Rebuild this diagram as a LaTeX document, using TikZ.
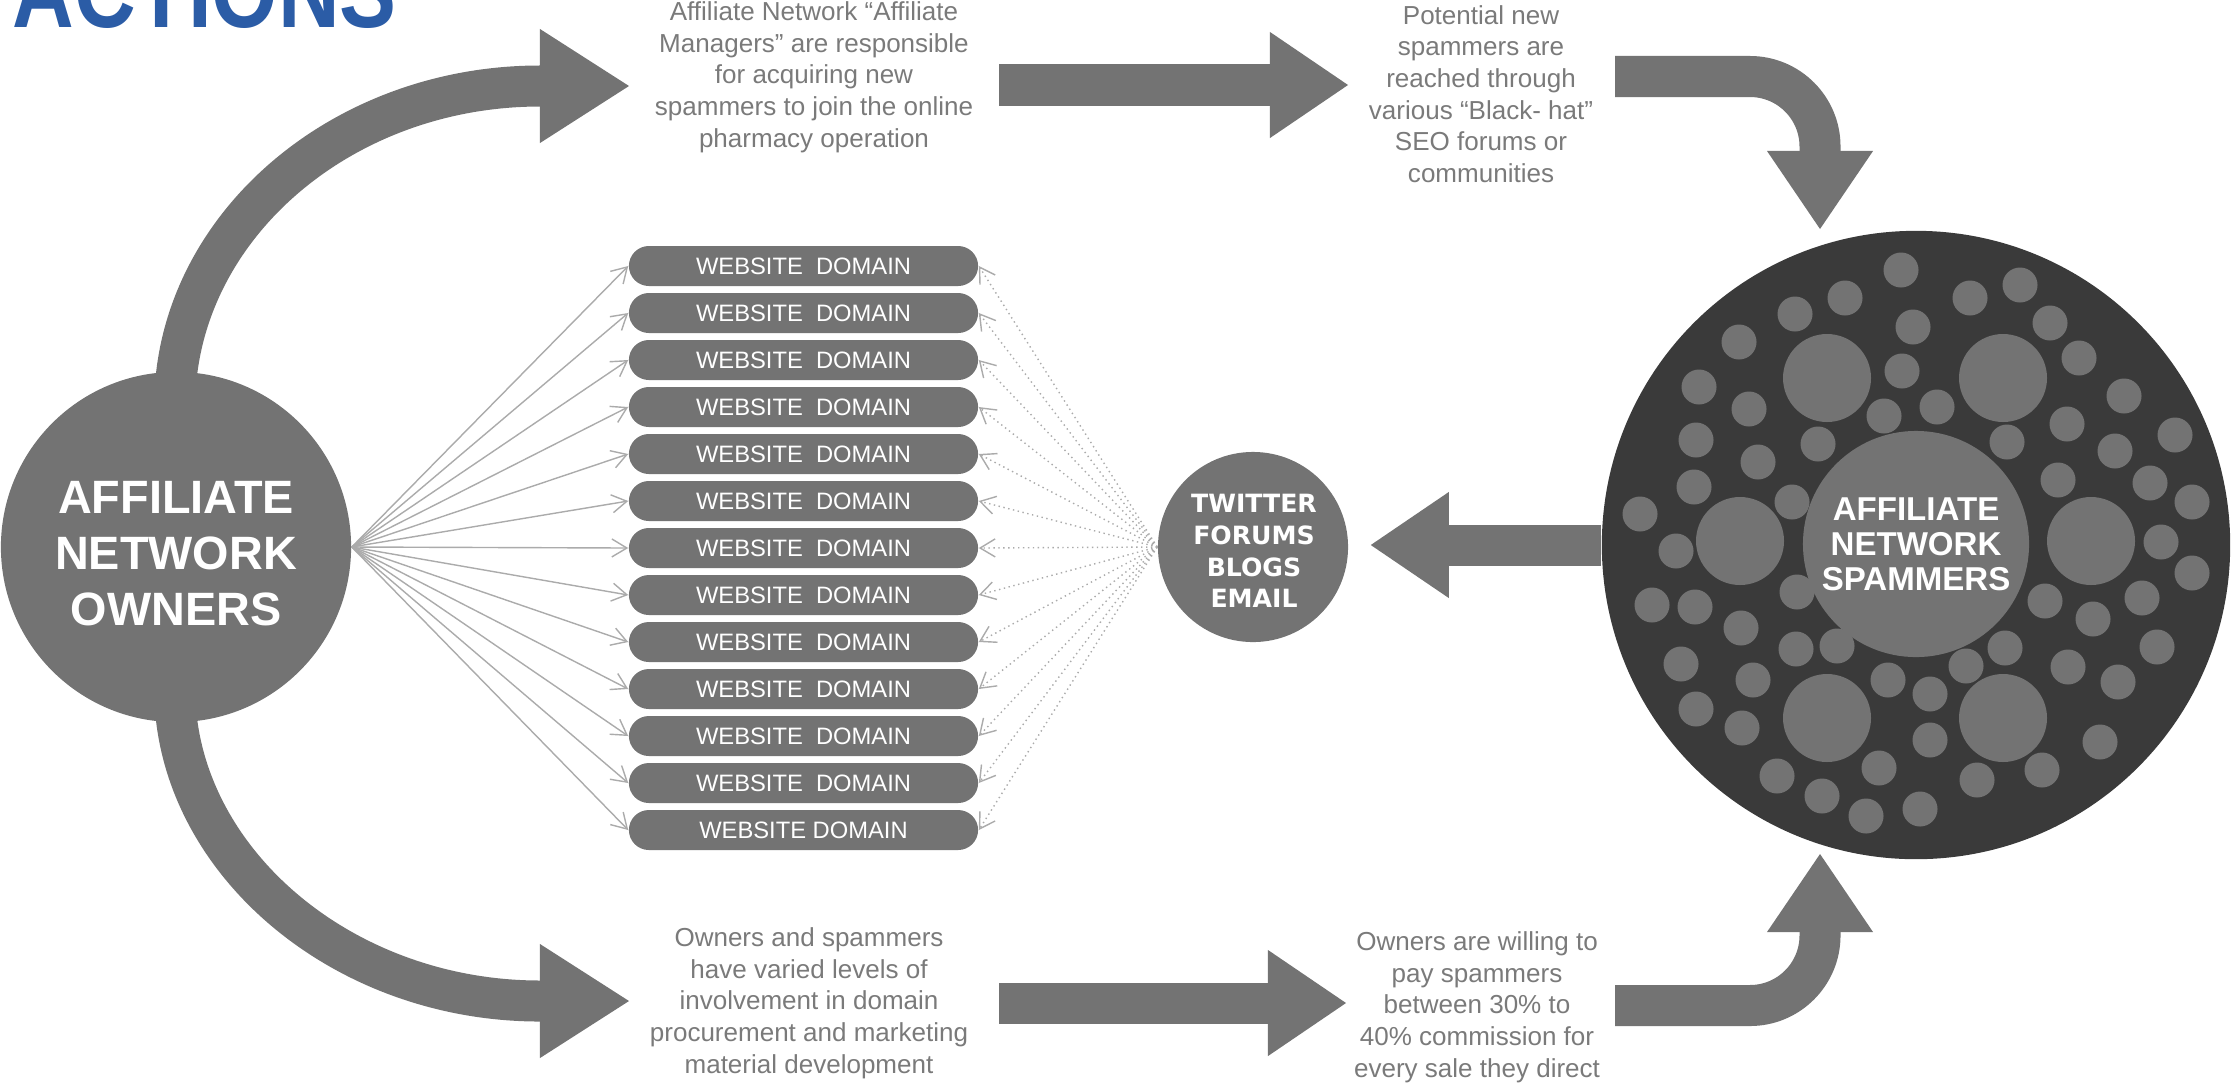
\documentclass[tikz,border=0pt]{standalone}
\usepackage{fontspec}
\setmainfont{Liberation Sans}
\newfontfamily\heavyfont{DejaVu Sans}
\newfontfamily\titlefont{Liberation Sans}[FakeStretch=0.82]
\usepackage{tikz}
\usetikzlibrary{arrows.meta,backgrounds}

\definecolor{shapegray}{HTML}{737373}
\definecolor{darkdisc}{HTML}{3A3A3A}
\definecolor{textgray}{HTML}{7A7A7A}
\definecolor{fangray}{HTML}{ABABAB}
\definecolor{titleblue}{HTML}{2B5CA6}

\begin{document}
\begin{tikzpicture}[x=0.01cm, y=-0.01cm]
% Node styles ---
\tikzstyle{own} = [circle, fill = shapegray, minimum size = 3.5cm, inner sep = 0pt]
\tikzstyle{ownlabel} = [align = center, text = white, inner sep = 0pt, font = \fontsize{13.3}{15.9}\selectfont\bfseries]
\tikzstyle{hub} = [circle, fill = shapegray, minimum size = 1.9cm, inner sep = 0pt]
\tikzstyle{hublabel} = [align = center, text = white, inner sep = 0pt, font = \heavyfont\bfseries\fontsize{7.15}{9}\selectfont]
\tikzstyle{spam} = [circle, fill = darkdisc, minimum size = 6.28cm, inner sep = 0pt]
\tikzstyle{core} = [circle, fill = shapegray, minimum size = 2.26cm, inner sep = 0pt, align = center, text = white, font = \fontsize{9.4}{10}\selectfont\bfseries]
\tikzstyle{site} = [rectangle, rounded corners = 0.2cm, fill = shapegray, minimum width = 3.49cm, minimum height = 0.4cm, inner sep = 0pt, text = white, font = \fontsize{6.75}{8}\selectfont]
\tikzstyle{txt} = [align = center, text = textgray, inner sep = 0pt, font = \fontsize{7.4}{9}\selectfont]
\tikzstyle{link} = [-{Straight Barb[length=1.5mm, width=1.8mm]}, draw = fangray, line width = 0.4pt]
\tikzstyle{spread} = [link, densely dotted]
\tikzstyle{blockarr} = [draw = shapegray, line width = 0.41cm, -{Triangle[length=0.78cm, width=1.06cm, line width=0pt]}]
\tikzstyle{bigtip} = [-{Triangle[length=0.89cm, width=1.14cm, line width=0pt]}]
% Begin Figure ---
\useasboundingbox (0,0) rectangle (2231,1084);
% Nodes
\node at (12,27) [anchor = base west, inner sep = 0pt, text = titleblue, font = \titlefont\bfseries\fontsize{29.6}{30}\selectfont] (title) {ACTIONS};
\node at (176,547) [own] (owners) {};
\node at (176,554) [ownlabel] (ownertxt) {AFFILIATE\\NETWORK\\OWNERS};
\node at (1253,547) [hub] (hub) {};
\node at (1254,551) [hublabel] (hubtxt) {TWITTER\\FORUMS\\BLOGS\\EMAIL};
\node at (1916,545) [spam] (spammers) {};
\foreach \x/\y in {1827/378, 2003/378, 1740/541, 2091/541, 1827/718, 2003/718}
  \fill [shapegray] (\x,\y) circle (44);
\foreach \x/\y in {1901/270, 1845/298, 1970/298, 2020/285, 1795/314, 1913/327, 2050/323, 1739/342,
  2079/358, 1902/371, 1699/387, 2124/396, 1749/409, 1884/416, 1937/407, 2067/424, 1696/440,
  1818/444, 2007/442, 2175/435, 1758/462, 2115/451, 1694/487, 2058/480, 2150/483, 1792/502,
  1640/514, 2192/502, 1676/551, 2161/542, 1797/592, 2192/573, 1652/605, 1695/607, 2142/598,
  2045/601, 2093/619, 1741/628, 1796/649, 1837/646, 2005/648, 2157/647, 1681/664, 1966/666,
  1888/680, 2068/667, 1753/680, 1930/694, 2118/682, 1696/709, 1742/728, 1930/740, 2100/742,
  1879/768, 1977/780, 2042/770, 1777/776, 1822/796, 1866/816, 1920/809}
  \fill [shapegray] (\x,\y) circle (17.5);
\node at (1916,544) [core] (core) {AFFILIATE\\NETWORK\\SPAMMERS};
\foreach \i in {1,...,13}
  \node at (803.5,{266+47*(\i-1)}) [site] (dom\i) {\ifnum\i<13 WEBSITE\ \ DOMAIN\else WEBSITE DOMAIN\fi};
\node at (814,77) [txt] (mgrtxt) {Affiliate Network “Affiliate\\Managers” are responsible\\for acquiring new\\spammers to join the online\\pharmacy operation};
\node at (1481,94) [txt] (seotxt) {Potential new\\spammers are\\reached through\\various “Black- hat”\\SEO forums or\\communities};
\node at (809,1003) [txt] (proctxt) {Owners and spammers\\have varied levels of\\involvement in domain\\procurement and marketing\\material development};
\node at (1477,1007) [txt] (paytxt) {Owners are willing to\\pay spammers\\between 30\% to\\40\% commission for\\every sale they direct};
% arrow ends
\coordinate (upend) at (629,86);
\coordinate (lowend) at (629,1001);
\coordinate (mgrout) at (999,85);
\coordinate (seoin) at (1348,85);
\coordinate (procout) at (999,1003);
\coordinate (payin) at (1346,1003);
\coordinate (seoout) at (1615,76.5);
\coordinate (seobend) at (1820,76.5);
\coordinate (spamtop) at (1820,229);
\coordinate (payout) at (1615,1005.5);
\coordinate (paybend) at (1820,1005.5);
\coordinate (spambot) at (1820,854);
% Paths
\foreach \i in {1,...,13} {
  \path (owners.east) edge [link] (dom\i.west);
  \path (hub.west) edge [spread] (dom\i.east);
}
% big arrows
\begin{scope}[on background layer]
\draw [blockarr, bigtip] ([yshift=-0.08cm]owners.north) .. controls (192,215) and (350,86) .. (upend);
\draw [blockarr, bigtip] ([yshift=0.08cm]owners.south) .. controls (192,872) and (350,1001) .. (lowend);
\draw [blockarr] (mgrout) -- (seoin);
\draw [blockarr] (procout) -- (payin);
\draw [blockarr, rounded corners = 0.7cm] (seoout) -- (seobend) -- (spamtop);
\draw [blockarr, rounded corners = 0.7cm] (payout) -- (paybend) -- (spambot);
\draw [blockarr, shorten > = 0.22cm] (spammers.west) -- (spammers.west -| hub.east);
\end{scope}
\end{tikzpicture}
\end{document}
